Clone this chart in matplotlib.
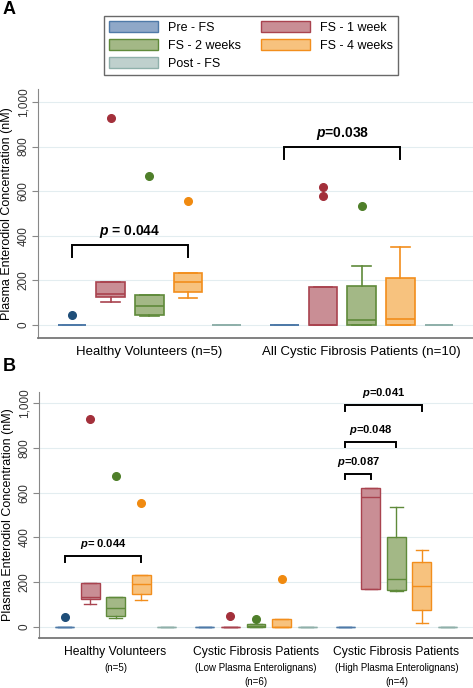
import matplotlib
matplotlib.use("Agg")
import matplotlib.pyplot as plt
from matplotlib.patches import Patch

plt.rcParams['font.family'] = ['Liberation Sans', 'DejaVu Sans']
plt.rcParams['mathtext.fontset'] = 'custom'
plt.rcParams['mathtext.it'] = 'Liberation Sans:italic:bold'
plt.rcParams['mathtext.rm'] = 'Liberation Sans:bold'

series = ['Pre - FS', 'FS - 1 week', 'FS - 2 weeks', 'FS - 4 weeks', 'Post - FS']
edge_colors = ['#4f7aa8', '#a9434f', '#5f8a3a', '#f28e1c', '#8fb0aa']
face_colors = ['#8fa8c8', '#c98e95', '#a3b886', '#f7c27e', '#bfd0cd']
flier_colors = ['#1f4e79', '#a3303b', '#4f7f2a', '#f08a10', '#8fb0aa']

# ---- panel A: box stats per group, order = series
a_groups = ['Healthy Volunteers (n=5)', 'All Cystic Fibrosis Patients (n=10)']
a_whislo = [[0, 104, 40, 122, 0], [0, 0, 0, 0, 0]]
a_q1 = [[0, 127, 45, 146, 0], [0, 0, 0, 0, 0]]
a_med = [[0, 139, 87, 191, 0], [0, 0, 22, 25, 0]]
a_q3 = [[0, 194, 134, 234, 0], [0, 169, 175, 213, 0]]
a_whishi = [[0, 194, 134, 234, 0], [0, 169, 264, 349, 0]]
a_fliers = [[[45], [930], [670], [555], []], [[], [619, 578], [534], [], []]]
# (group, series from, series to, p text)
a_pvals = [(0, 0, 3, r'$p$ = 0.044'), (1, 0, 3, r'$p$=0.038')]
a_brk_lo = [306, 746]
a_brk_hi = [361, 799]

# ---- panel B
b_groups = [['Healthy Volunteers', '(n=5)'],
            ['Cystic Fibrosis Patients', '(Low Plasma Enterolignans)', '(n=6)'],
            ['Cystic Fibrosis Patients', '(High Plasma Enterolignans)', '(n=4)']]
b_whislo = [[0, 104, 42, 122, 0], [0, 0, 0, 0, 0], [0, 170, 161, 18, 0]]
b_q1 = [[0, 127, 48, 146, 0], [0, 0, 0, 0, 0], [0, 170, 167, 78, 0]]
b_med = [[0, 134, 87, 191, 0], [0, 0, 4, 2, 0], [0, 579, 216, 181, 0]]
b_q3 = [[0, 197, 134, 234, 0], [0, 0, 13, 37, 0], [0, 619, 400, 290, 0]]
b_whishi = [[0, 197, 134, 234, 0], [0, 0, 13, 37, 0], [0, 619, 537, 346, 0]]
b_fliers = [[[45], [930], [672], [555], []],
            [[], [49], [36], [215], []],
            [[], [], [], [], []]]
b_pvals = [(0, 0, 3, r'$p$= 0.044'), (2, 0, 1, r'$p$=0.087'),
           (2, 0, 2, r'$p$=0.048'), (2, 0, 3, r'$p$=0.041')]
b_brk_lo = [288, 660, 803, 964]
b_brk_hi = [319, 684, 828, 991]

yticks = [0, 200, 400, 600, 800, 1000]
ytick_labels = ['0', '200', '400', '600', '800', '1,000']

GAP = 1.5


def positions(ngroups):
    pos = []
    for g in range(ngroups):
        start = 1 + g * (len(series) - 1 + GAP)
        pos.append([start + i for i in range(len(series))])
    return pos


def draw_panel(ax, whislo, q1, med, q3, whishi, fliers, pvals, brk_lo, brk_hi,
               psize, lw_box):
    pos = positions(len(whislo))
    for g in range(len(whislo)):
        for i in range(len(series)):
            st = dict(whislo=whislo[g][i], q1=q1[g][i], med=med[g][i],
                      q3=q3[g][i], whishi=whishi[g][i], fliers=fliers[g][i])
            ax.bxp([st], positions=[pos[g][i]], widths=0.74, capwidths=0.48,
                   patch_artist=True, manage_ticks=False,
                   boxprops=dict(facecolor=face_colors[i], edgecolor=edge_colors[i],
                                 linewidth=lw_box),
                   medianprops=dict(color=edge_colors[i], linewidth=lw_box),
                   whiskerprops=dict(color=edge_colors[i], linewidth=lw_box),
                   capprops=dict(color=edge_colors[i], linewidth=lw_box),
                   flierprops=dict(marker='o', markerfacecolor=flier_colors[i],
                                   markeredgecolor=flier_colors[i], markersize=5.5))
    for k, (g, s0, s1, txt) in enumerate(pvals):
        x0, x1 = pos[g][s0], pos[g][s1]
        ax.plot([x0, x0, x1, x1], [brk_lo[k], brk_hi[k], brk_hi[k], brk_lo[k]],
                color='black', lw=1.4, solid_joinstyle='miter')
        ax.text((x0 + x1) / 2, brk_hi[k] + 22, txt, ha='center', va='bottom',
                fontsize=psize, fontweight='bold')
    ax.set_yticks(yticks)
    ax.set_yticklabels(ytick_labels, rotation=90, va='center', fontsize=8.5,
                       color='#333333')
    ax.yaxis.grid(True, color='#e3edf0', lw=0.8)
    ax.set_axisbelow(True)
    ax.set_xticks([])
    for sp in ['top', 'right']:
        ax.spines[sp].set_visible(False)
    ax.spines['left'].set_color('#888888')
    ax.spines['bottom'].set_color('#777777')
    ax.spines['bottom'].set_linewidth(1.3)
    ax.tick_params(axis='y', length=4, color='#888888', pad=2)
    ax.set_ylabel('Plasma Enterodiol Concentration (nM)', fontsize=9, labelpad=3)
    return pos


fig = plt.figure(figsize=(4.73, 6.88), dpi=100)

# panel A
axA = fig.add_axes([38 / 473, 1 - 338 / 688, 1 - 38 / 473, 249 / 688])
posA = draw_panel(axA, a_whislo, a_q1, a_med, a_q3, a_whishi, a_fliers,
                  a_pvals, a_brk_lo, a_brk_hi, 10, 1.2)
axA.set_xlim(0.12, 11.38)
axA.set_ylim(-58, 1058)
for g, name in enumerate(a_groups):
    axA.text(posA[g][2], -0.056, name, transform=axA.get_xaxis_transform(),
             ha='center', va='center', fontsize=9.5)

# panel B
axB = fig.add_axes([39 / 473, 1 - 638 / 688, 1 - 39 / 473, 246 / 688])
posB = draw_panel(axB, b_whislo, b_q1, b_med, b_q3, b_whishi, b_fliers,
                  b_pvals, b_brk_lo, b_brk_hi, 8, 1.0)
axB.set_xlim(0, 17)
axB.set_ylim(-49, 1049)
line_y = [-0.057, -0.12, -0.177]
for g, lines in enumerate(b_groups):
    for j, txt in enumerate(lines):
        y = line_y[j] if (len(lines) == 3 or j == 0) else line_y[1]
        axB.text(posB[g][2], y, txt, transform=axB.get_xaxis_transform(),
                 ha='center', va='center', fontsize=8.7 if j == 0 else 7)

# legend
handles = [Patch(facecolor=face_colors[i], edgecolor=edge_colors[i], lw=1.0)
           for i in range(len(series))]
order = [0, 2, 4, 1, 3]
fig.legend([handles[i] for i in order], [series[i] for i in order], ncol=2,
           loc='upper left', bbox_to_anchor=(104 / 473, 1 - 16 / 688),
           fontsize=9, frameon=True, fancybox=False, edgecolor='#444444',
           handlelength=3.9, handleheight=1.0, columnspacing=1.6,
           labelspacing=0.4, borderpad=0.4, handletextpad=0.8,
           borderaxespad=0)

fig.text(3 / 473, 1 - 9 / 688, 'A', fontsize=13, fontweight='bold', va='center')
fig.text(3 / 473, 1 - 367 / 688, 'B', fontsize=13, fontweight='bold', va='center')

fig.savefig('out.png', dpi=100)
